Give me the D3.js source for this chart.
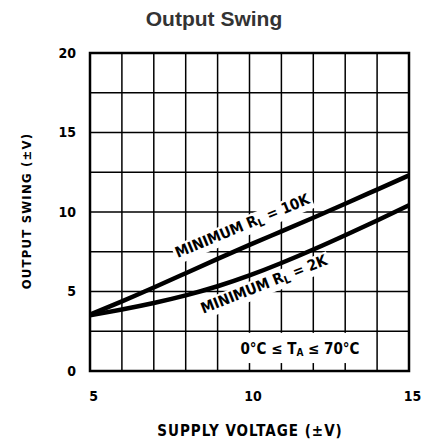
<!DOCTYPE html>
<html>
<head>
<meta charset="utf-8">
<script src="https://cdn.jsdelivr.net/npm/d3@7"></script>
<style>
  body { margin: 0; background: #fff; }
  text { font-family: "DejaVu Sans Condensed", "DejaVu Sans", sans-serif; font-weight: bold; }
</style>
</head>
<body>
<script>
// supply voltage (±V)
var voltage = [5, 6, 7, 8, 9, 10, 11, 12, 13, 14, 15]
// output swing (±V) for each load
var swing10k = [3.55, 4.38, 5.25, 6.15, 7.05, 7.93, 8.78, 9.64, 10.52, 11.41, 12.3]
var swing2k = [3.5, 3.87, 4.28, 4.76, 5.33, 6.01, 6.79, 7.64, 8.54, 9.47, 10.42]

var xTickLabels = [5, 10, 15]
var yTickLabels = [0, 5, 10, 15, 20]
var xGrid = d3.range(5, 15.01, 1)
var yGrid = d3.range(0, 20.01, 2.5)

var W = 423, H = 444
var margin = {top: 53, right: 14, bottom: 73, left: 90}

var svg = d3.select("body").append("svg")
  .attr("width", W)
  .attr("height", H)

var x = d3.scaleLinear().domain([5, 15]).range([margin.left, W - margin.right])
var y = d3.scaleLinear().domain([0, 20]).range([H - margin.bottom, margin.top])

// title
svg.append("text")
  .attr("x", 214).attr("y", 26)
  .attr("text-anchor", "middle")
  .style("font-family", "'Liberation Sans', Arial, sans-serif")
  .style("font-size", "21px")
  .attr("fill", "#333")
  .text("Output Swing")

// grid
var grid = svg.append("g").attr("stroke", "#000").attr("stroke-width", 1.5)
grid.selectAll(".vx").data(xGrid).join("line")
  .attr("x1", d => x(d)).attr("x2", d => x(d))
  .attr("y1", y(0)).attr("y2", y(20))
grid.selectAll(".hy").data(yGrid).join("line")
  .attr("x1", x(5)).attr("x2", x(15))
  .attr("y1", d => y(d)).attr("y2", d => y(d))

// frame
svg.append("rect")
  .attr("x", x(5)).attr("y", y(20))
  .attr("width", x(15) - x(5)).attr("height", y(0) - y(20))
  .attr("fill", "none").attr("stroke", "#000").attr("stroke-width", 2.5)

// axes tick labels
var yAxis = g => g
  .attr("transform", `translate(${x(5)},0)`)
  .call(d3.axisLeft(y).tickValues(yTickLabels).tickSize(0).tickPadding(14))
  .call(g => g.select(".domain").remove())
  .call(g => g.selectAll("text").style("font-size", "14px").attr("fill", "#000"))

var xAxis = g => g
  .attr("transform", `translate(3,${y(0)})`)
  .call(d3.axisBottom(x).tickValues(xTickLabels).tickSize(0).tickPadding(20))
  .call(g => g.select(".domain").remove())
  .call(g => g.selectAll("text").style("font-size", "14px").attr("fill", "#000"))

svg.append("g").call(yAxis)
svg.append("g").call(xAxis)

// axis titles
svg.append("text")
  .attr("x", 250).attr("y", 436)
  .attr("text-anchor", "middle")
  .style("font-size", "15px")
  .style("letter-spacing", "1px")
  .text("SUPPLY VOLTAGE (±V)")

svg.append("text")
  .attr("transform", "translate(31,211) rotate(-90)")
  .attr("text-anchor", "middle")
  .style("font-size", "13px")
  .style("letter-spacing", "1.2px")
  .text("OUTPUT SWING (±V)")

// curve labels with white boxes behind
function curveLabel(vx, vy, angle, tail) {
  var g = svg.append("g")
    .attr("transform", `translate(${x(vx)},${y(vy)}) rotate(${angle})`)
  var bg = g.append("rect").attr("fill", "#fff")
  var t = g.append("text").style("font-size", "15px")
  t.append("tspan").text("MINIMUM R")
  t.append("tspan").attr("dy", 3).style("font-size", "11px").text("L")
  t.append("tspan").attr("dy", -3).text(" = " + tail)
  var b = t.node().getBBox()
  bg.attr("x", b.x - 2).attr("y", b.y + 1)
    .attr("width", b.width + 4).attr("height", b.height - 1)
}
curveLabel(7.75, 7.1, -22.5, "10K")
curveLabel(8.55, 3.6, -21.6, "2K")

// curves
var line = d3.line()
  .x((d, i) => x(voltage[i]))
  .y(d => y(d))
  .curve(d3.curveNatural)

svg.append("path").attr("d", line(swing10k))
  .attr("fill", "none").attr("stroke", "#000").attr("stroke-width", 4.5)
svg.append("path").attr("d", line(swing2k))
  .attr("fill", "none").attr("stroke", "#000").attr("stroke-width", 4.5)

// temperature note
svg.append("rect")
  .attr("x", x(9.25)).attr("y", y(2.4))
  .attr("width", x(13.8) - x(9.25)).attr("height", y(0.5) - y(2.4))
  .attr("fill", "#fff")
var tn = svg.append("text")
  .attr("x", 300).attr("y", 354)
  .attr("text-anchor", "middle")
  .style("font-size", "15px")
tn.append("tspan").text("0°C ≤ T")
tn.append("tspan").attr("dy", 2).style("font-size", "10px").text("A")
tn.append("tspan").attr("dy", -2).text(" ≤ 70°C")
</script>
</body>
</html>
